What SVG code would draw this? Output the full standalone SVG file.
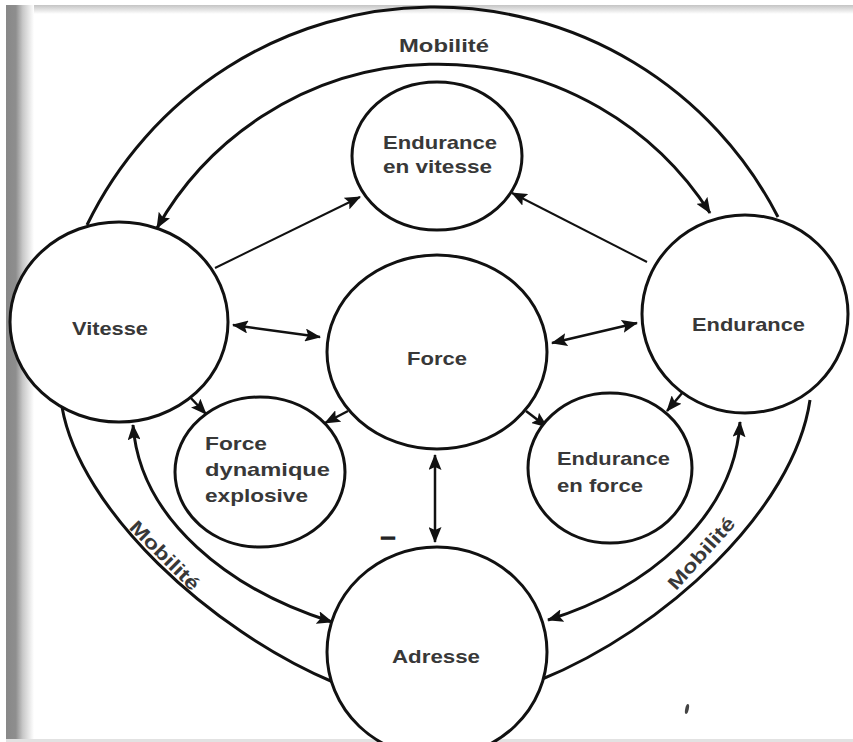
<svg xmlns="http://www.w3.org/2000/svg" width="853" height="742" viewBox="0 0 853 742">
<defs>
<linearGradient id="lbar" x1="0" y1="0" x2="1" y2="0">
<stop offset="0" stop-color="#888"/>
<stop offset="0.35" stop-color="#8e8e8e"/>
<stop offset="0.6" stop-color="#c8c8c8"/>
<stop offset="1" stop-color="#fff"/>
</linearGradient>
<linearGradient id="tbar" x1="0" y1="0" x2="0" y2="1">
<stop offset="0" stop-color="#c4c4c4"/>
<stop offset="1" stop-color="#fff"/>
</linearGradient>
<marker id="ah" viewBox="0 0 16 13" refX="15" refY="6.5" markerWidth="16" markerHeight="13" orient="auto-start-reverse" markerUnits="userSpaceOnUse">
<path d="M0,0 L16,6.5 L0,13 L3,6.5 z" fill="#111"/>
</marker>
<style>
.node{fill:#fff;stroke:#111;stroke-width:3}
.lbl{font-family:"Liberation Sans",Arial,sans-serif;font-size:19px;font-weight:bold;fill:#383838}
.arc{fill:none;stroke:#111;stroke-width:3}
.con{fill:none;stroke:#111;stroke-width:2.5}
.thin{fill:none;stroke:#111;stroke-width:2}
</style>
</defs>
<rect width="853" height="742" fill="#fff"/>
<rect x="6" y="5" width="847" height="9" fill="url(#tbar)"/>
<rect x="6" y="5" width="28" height="737" fill="url(#lbar)"/>
<rect x="6" y="739" width="847" height="3" fill="#e2e2e2"/>

<g id="connectors">
<path class="arc" d="M87,225 A386,386 0 0 1 778,217"/>
<path class="arc" d="M157,228 A323,323 0 0 1 710,213" marker-start="url(#ah)" marker-end="url(#ah)"/>
<path class="arc" d="M62,407 C80,510 210,630 333,682"/>
<path class="arc" d="M133,425 C140,520 230,590 332,622" marker-start="url(#ah)" marker-end="url(#ah)"/>
<path class="arc" d="M810,400 C794,510 664,630 540,680"/>
<path class="arc" d="M740,422 C734,520 644,590 548,620" marker-start="url(#ah)" marker-end="url(#ah)"/>
<path class="thin" d="M215,268 L360,197" marker-end="url(#ah)"/>
<path class="thin" d="M647,262 L512,193" marker-end="url(#ah)"/>
<path class="con" d="M233,325 L320,337" marker-start="url(#ah)" marker-end="url(#ah)"/>
<path class="con" d="M552,343 L637,323" marker-start="url(#ah)" marker-end="url(#ah)"/>
<path class="con" d="M188,395 L206,414" marker-end="url(#ah)"/>
<path class="con" d="M348,411 L325,423" marker-end="url(#ah)"/>
<path class="con" d="M526,411 L547,427" marker-end="url(#ah)"/>
<path class="con" d="M683,392 L667,411" marker-end="url(#ah)"/>
<path class="con" d="M435,455 L435,542" marker-start="url(#ah)" marker-end="url(#ah)"/>
</g>

<g id="node-endurance-vitesse">
<ellipse class="node" cx="437" cy="156" rx="85" ry="74"/>
<text class="lbl" x="383" y="149" textLength="114" lengthAdjust="spacingAndGlyphs">Endurance</text>
<text class="lbl" x="383" y="173" textLength="109" lengthAdjust="spacingAndGlyphs">en vitesse</text>
</g>
<g id="node-vitesse">
<ellipse class="node" cx="119" cy="322" rx="109" ry="100"/>
<text class="lbl" x="72" y="335" textLength="76" lengthAdjust="spacingAndGlyphs">Vitesse</text>
</g>
<g id="node-force">
<ellipse class="node" cx="437" cy="352" rx="110" ry="97"/>
<text class="lbl" x="407" y="365" textLength="60" lengthAdjust="spacingAndGlyphs">Force</text>
</g>
<g id="node-endurance">
<ellipse class="node" cx="745" cy="314" rx="103" ry="99"/>
<text class="lbl" x="692" y="331" textLength="113" lengthAdjust="spacingAndGlyphs">Endurance</text>
</g>
<g id="node-force-dynamique">
<ellipse class="node" cx="260" cy="472" rx="85" ry="75"/>
<text class="lbl" x="205" y="450" textLength="62" lengthAdjust="spacingAndGlyphs">Force</text>
<text class="lbl" x="205" y="476" textLength="125" lengthAdjust="spacingAndGlyphs">dynamique</text>
<text class="lbl" x="205" y="502" textLength="103" lengthAdjust="spacingAndGlyphs">explosive</text>
</g>
<g id="node-endurance-force">
<ellipse class="node" cx="610" cy="468" rx="82" ry="75"/>
<text class="lbl" x="557" y="465" textLength="113" lengthAdjust="spacingAndGlyphs">Endurance</text>
<text class="lbl" x="557" y="492" textLength="86" lengthAdjust="spacingAndGlyphs">en force</text>
</g>
<g id="node-adresse">
<ellipse class="node" cx="437" cy="652" rx="110" ry="105"/>
<text class="lbl" x="392" y="663" textLength="88" lengthAdjust="spacingAndGlyphs">Adresse</text>
</g>

<g id="labels">
<text class="lbl" x="399" y="52" textLength="90" lengthAdjust="spacingAndGlyphs">Mobilité</text>
<text class="lbl" transform="translate(165,555) rotate(45)" x="-45" y="7" textLength="90" lengthAdjust="spacingAndGlyphs">Mobilité</text>
<text class="lbl" transform="translate(701,553) rotate(-48)" x="-45" y="7" textLength="90" lengthAdjust="spacingAndGlyphs">Mobilité</text>
<text class="lbl" x="381" y="543" font-size="26" stroke="#222" stroke-width="1.5" textLength="14" lengthAdjust="spacingAndGlyphs">–</text>
</g>
<ellipse cx="687" cy="709" rx="1.8" ry="5" fill="#444" transform="rotate(12 687 709)"/>
</svg>
